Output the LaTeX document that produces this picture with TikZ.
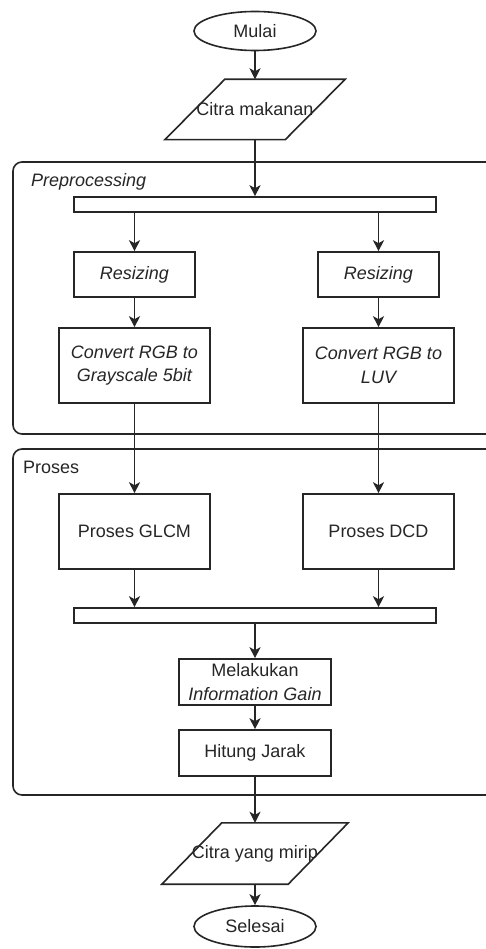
\documentclass[tikz,border=0pt]{standalone}
\usepackage{fontspec}
\setmainfont{Liberation Sans}
\usetikzlibrary{shapes.geometric,arrows.meta}
\begin{document}
\begin{tikzpicture}[x=1pt,y=-1pt,
  every node/.style={font=\fontsize{18}{23.5}\selectfont, align=center, inner sep=0pt, text=black!85},
  ln/.style={line width=1.6pt, draw=black!85},
  procbox/.style={ln, draw, rectangle},
  termbox/.style={ln, draw, ellipse, minimum width=122pt, minimum height=39pt},
  iobox/.style={rectangle, minimum width=120pt, minimum height=60pt},
  barbox/.style={procbox, minimum width=362pt, minimum height=15pt},
  grp/.style={ln, rounded corners=9pt},
  arr/.style={ln, -{Stealth[length=11pt,width=11pt,inset=3pt]}}]
\useasboundingbox (0,0) rectangle (486,949);
\clip (0,0) rectangle (486,949);
\fill[white] (0,0) rectangle (486,949);

% groups
\draw[grp] (13,162) rectangle (500,434);
\draw[grp] (13,449) rectangle (500,795);
\node[anchor=west, font=\fontsize{18}{23.5}\selectfont\itshape] (lpre) at (31,182) {Preprocessing};
\node[anchor=west] (lpro) at (23,467) {Proses};

% nodes
\node[termbox] (mulai) at (255,31) {Mulai};
\node[iobox] (citra) at (255,109.5) {Citra makanan};
\draw[ln] ([xshift=-30pt]citra.south west) -- ([xshift=-30pt]citra.south east) -- ([xshift=30pt]citra.north east) -- ([xshift=30pt]citra.north west) -- cycle;

\node[barbox] (bar1) at (255,204.5) {};
\node[procbox, minimum width=121pt, minimum height=45pt, font=\fontsize{18}{23.5}\selectfont\itshape] (rs1) at (134.5,274.5) {Resizing};
\node[procbox, minimum width=121pt, minimum height=45pt, font=\fontsize{18}{23.5}\selectfont\itshape] (rs2) at (378.5,274.5) {Resizing};
\node[procbox, minimum width=151pt, minimum height=75pt, font=\fontsize{18}{23.5}\selectfont\itshape] (cv1) at (134.5,365.5) {Convert RGB to\\Grayscale 5bit};
\node[procbox, minimum width=151pt, minimum height=75pt, font=\fontsize{18}{23.5}\selectfont\itshape] (cv2) at (378.5,365.5) {Convert RGB to\\LUV};
\node[procbox, minimum width=151pt, minimum height=75pt] (gl) at (134.5,531.5) {Proses GLCM};
\node[procbox, minimum width=151pt, minimum height=75pt] (dc) at (378.5,531.5) {Proses DCD};
\node[barbox] (bar2) at (255,615.5) {};
\node[procbox, minimum width=152pt, minimum height=46pt] (ig) at (255,682) {Melakukan\\\textit{Information Gain}};
\node[procbox, minimum width=152pt, minimum height=46pt] (hj) at (255,753) {Hitung Jarak};
\node[iobox, minimum height=61pt] (out) at (255,853.5) {Citra yang mirip};
\draw[ln] ([xshift=-30pt]out.south west) -- ([xshift=-30pt]out.south east) -- ([xshift=30pt]out.north east) -- ([xshift=30pt]out.north west) -- cycle;
\node[termbox, minimum height=41pt] (selesai) at (255,926.5) {Selesai};

% connectors
\draw[arr] (mulai.south) -- (citra.north);
\draw[arr] (citra.south) -- (bar1.north);
\draw[arr] (bar1.south -| rs1.north) -- (rs1.north);
\draw[arr] (bar1.south -| rs2.north) -- (rs2.north);
\draw[arr] (rs1.south) -- (cv1.north);
\draw[arr] (rs2.south) -- (cv2.north);
\draw[arr] (cv1.south) -- (gl.north);
\draw[arr] (cv2.south) -- (dc.north);
\draw[arr] (gl.south) -- (gl.south |- bar2.north);
\draw[arr] (dc.south) -- (dc.south |- bar2.north);
\draw[arr] (bar2.south) -- (ig.north);
\draw[arr] (ig.south) -- (hj.north);
\draw[arr] (hj.south) -- (out.north);
\draw[arr] (out.south) -- (selesai.north);
\end{tikzpicture}
\end{document}
